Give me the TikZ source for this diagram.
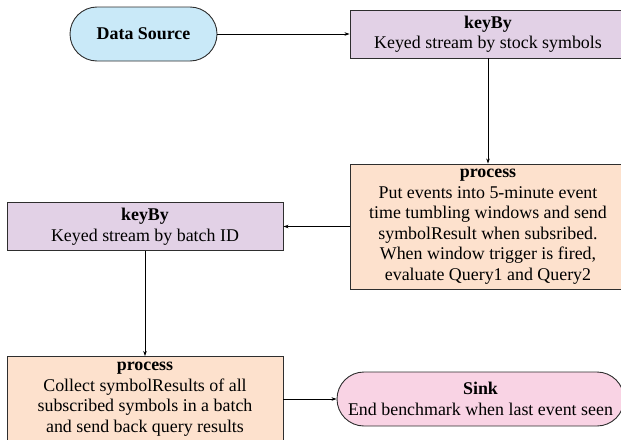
\documentclass[tikz,border=0pt]{standalone}
\usepackage{fontspec}
\setmainfont{Liberation Serif}
\usetikzlibrary{arrows.meta}
\definecolor{srcblue}{HTML}{C9E9F8}
\definecolor{keylav}{HTML}{E2D1E6}
\definecolor{procpeach}{HTML}{FDE1CD}
\definecolor{sinkpink}{HTML}{F9D3E4}
\definecolor{edgegray}{HTML}{2E2E2E}
\tikzset{
  base/.style={draw=edgegray, line width=0.9pt, align=center, inner sep=0pt,
    font=\fontsize{17.9}{20.5}\selectfont},
  terminal/.style={base, rounded corners=27pt, minimum height=54pt},
  keybox/.style={base, fill=keylav, minimum width=276pt, minimum height=48pt},
  procbox/.style={base, fill=procpeach, minimum width=276pt},
  flow/.style={draw=black, line width=0.7pt, -{Stealth[length=5pt,width=3.5pt]}}
}
\begin{document}
\begin{tikzpicture}[x=1pt, y=-1pt]
  \useasboundingbox (0,0) rectangle (621,439);
  \clip (0,0) rectangle (621,439);

  % top row: source and first key-by
  \node[terminal, fill=srcblue, minimum width=147pt] (src) at (143.5,34) {\textbf{Data Source}};
  \node[keybox] (kb1) at (488,34) {\textbf{keyBy}\\Keyed stream by stock symbols};

  % windowed processing per symbol
  \node[procbox, minimum height=125pt] (p1) at (488,226.5)
    {\textbf{process}\\Put events into 5-minute event\\time tumbling windows and send\\symbolResult when subsribed.\\When window trigger is fired,\\evaluate Query1 and Query2};

  % second key-by on batch
  \node[keybox] (kb2) at (145,226.5) {\textbf{keyBy}\\Keyed stream by batch ID};

  % batch collection
  \node[procbox, minimum height=85pt] (p2) at (145,399)
    {\textbf{process}\\Collect symbolResults of all\\subscribed symbols in a batch\\and send back query results};

  % sink
  \node[terminal, fill=sinkpink, minimum width=287pt] (sink) at (480.5,399)
    {\textbf{Sink}\\End benchmark when last event seen};

  % connectors
  \draw[flow] (src.east) -- (kb1.west);
  \draw[flow] (kb1.south) -- (p1.north);
  \draw[flow] (p1.west) -- (kb2.east);
  \draw[flow] (kb2.south) -- (p2.north);
  \draw[flow] (p2.east) -- (sink.west);
\end{tikzpicture}
\end{document}
